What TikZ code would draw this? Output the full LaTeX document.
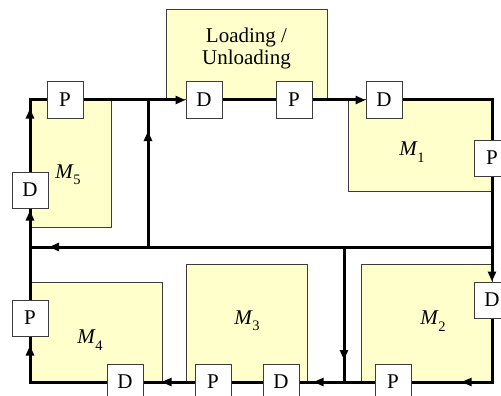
\documentclass[tikz,border=0pt]{standalone}
\usepackage{fontspec}
\setmainfont{Liberation Serif}
\usetikzlibrary{arrows.meta,decorations.markings}
\definecolor{machfill}{RGB}{255,255,204}
\definecolor{edge}{RGB}{60,60,60}
\newcommand{\mlab}[1]{{\itshape M}\kern0.5pt\raisebox{-0.3em}{\fontsize{14.5}{14.5}\selectfont #1}}
\tikzset{
  machine/.style={fill=machfill,draw=edge,line width=1pt},
  mborder/.style={draw=edge,line width=1pt},
  station/.style={draw=edge,line width=1pt,fill=white,minimum size=36pt,inner sep=0pt,font=\fontsize{21}{24}\selectfont},
  track/.style={line width=3pt,line join=miter},
  tip/.style={-{Triangle[length=10pt,width=8pt]}},
  arr at/.style={postaction={decorate,decoration={markings,mark=at position #1 with {\arrow{Triangle[length=10pt,width=8pt]}}}}},
  mtext/.style={font=\fontsize{21}{24}\selectfont}
}
\begin{document}
\begin{tikzpicture}[x=1pt,y=-1pt]
\useasboundingbox (0,0) rectangle (501,396);
% machine areas
\fill[machine] (166,10) rectangle (327,100);
\fill[machine] (30,100) rectangle (111,227);
\fill[machine] (348,100) rectangle (492,191);
\fill[machine] (30,282) rectangle (162,382);
\fill[machine] (186,264) rectangle (307,382);
\fill[machine] (361,264) rectangle (492,382);
\draw[mborder] (166,100) -- (166,10) -- (327,10) -- (327,100);
\draw[mborder] (111,100) -- (111,227) -- (30,227);
\draw[mborder] (348,100) -- (348,191) -- (492,191);
\draw[mborder] (30,282) -- (162,282) -- (162,382);
\draw[mborder] (186,382) -- (186,264) -- (307,264) -- (307,382);
\draw[mborder] (361,382) -- (361,264) -- (492,264);
% labels
\node[mtext,align=center] (lu) at (246.5,48) {Loading /\\[-2pt]Unloading};
\node[mtext] (m5) at (68,175) {\mlab{5}};
\node[mtext] (m1) at (412,152) {\mlab{1}};
\node[mtext] (m4) at (90,340) {\mlab{4}};
\node[mtext] (m3) at (247,321) {\mlab{3}};
\node[mtext] (m2) at (433,321) {\mlab{2}};
% corners and junctions
\coordinate (TL) at (30,100);
\coordinate (TR) at (492,100);
\coordinate (BR) at (492,382);
\coordinate (BL) at (30,382);
\coordinate (J1) at (148,100);
\coordinate (J2) at (492,247);
\coordinate (J3) at (30,247);
\coordinate (J5) at (148,247);
\coordinate (J6) at (344,247);
\coordinate (J4) at (344,382);
% stations
\node[station] (P5) at (65,100) {P};
\node[station] (D5) at (30,190) {D};
\node[station] (Dl) at (204,100) {D};
\node[station] (Pl) at (294,100) {P};
\node[station] (D1) at (384,100) {D};
\node[station] (P1) at (492,158) {P};
\node[station] (D2) at (492,300) {D};
\node[station] (P2) at (393,382) {P};
\node[station] (D3) at (281,382) {D};
\node[station] (P3) at (213,382) {P};
\node[station] (D4) at (125,382) {D};
\node[station] (P4) at (30,318) {P};
% tracks
\draw[track,arr at=63pt] (D5) -- (TL) -- (P5);
\draw[track,tip] (P5) -- (Dl);
\draw[track] (Dl) -- (Pl);
\draw[track,tip] (Pl) -- (D1);
\draw[track] (D1) -- (TR) -- (P1);
\draw[track,tip] (P1) -- (D2);
\draw[track,arr at=94pt] (D2) -- (BR) -- (P2);
\draw[track,arr at=61pt] (P2) -- (D3);
\draw[track] (D3) -- (P3);
\draw[track,arr at=33pt] (P3) -- (D4);
\draw[track,arr at=113pt] (D4) -- (BL) -- (P4);
\draw[track,arr at=89pt] (P4) -- (D5);
\draw[track,arr at=443pt] (J2) -- (J3);
\draw[track,arr at=116pt] (J5) -- (J1);
\draw[track,arr at=113pt] (J6) -- (J4);
\end{tikzpicture}
\end{document}
